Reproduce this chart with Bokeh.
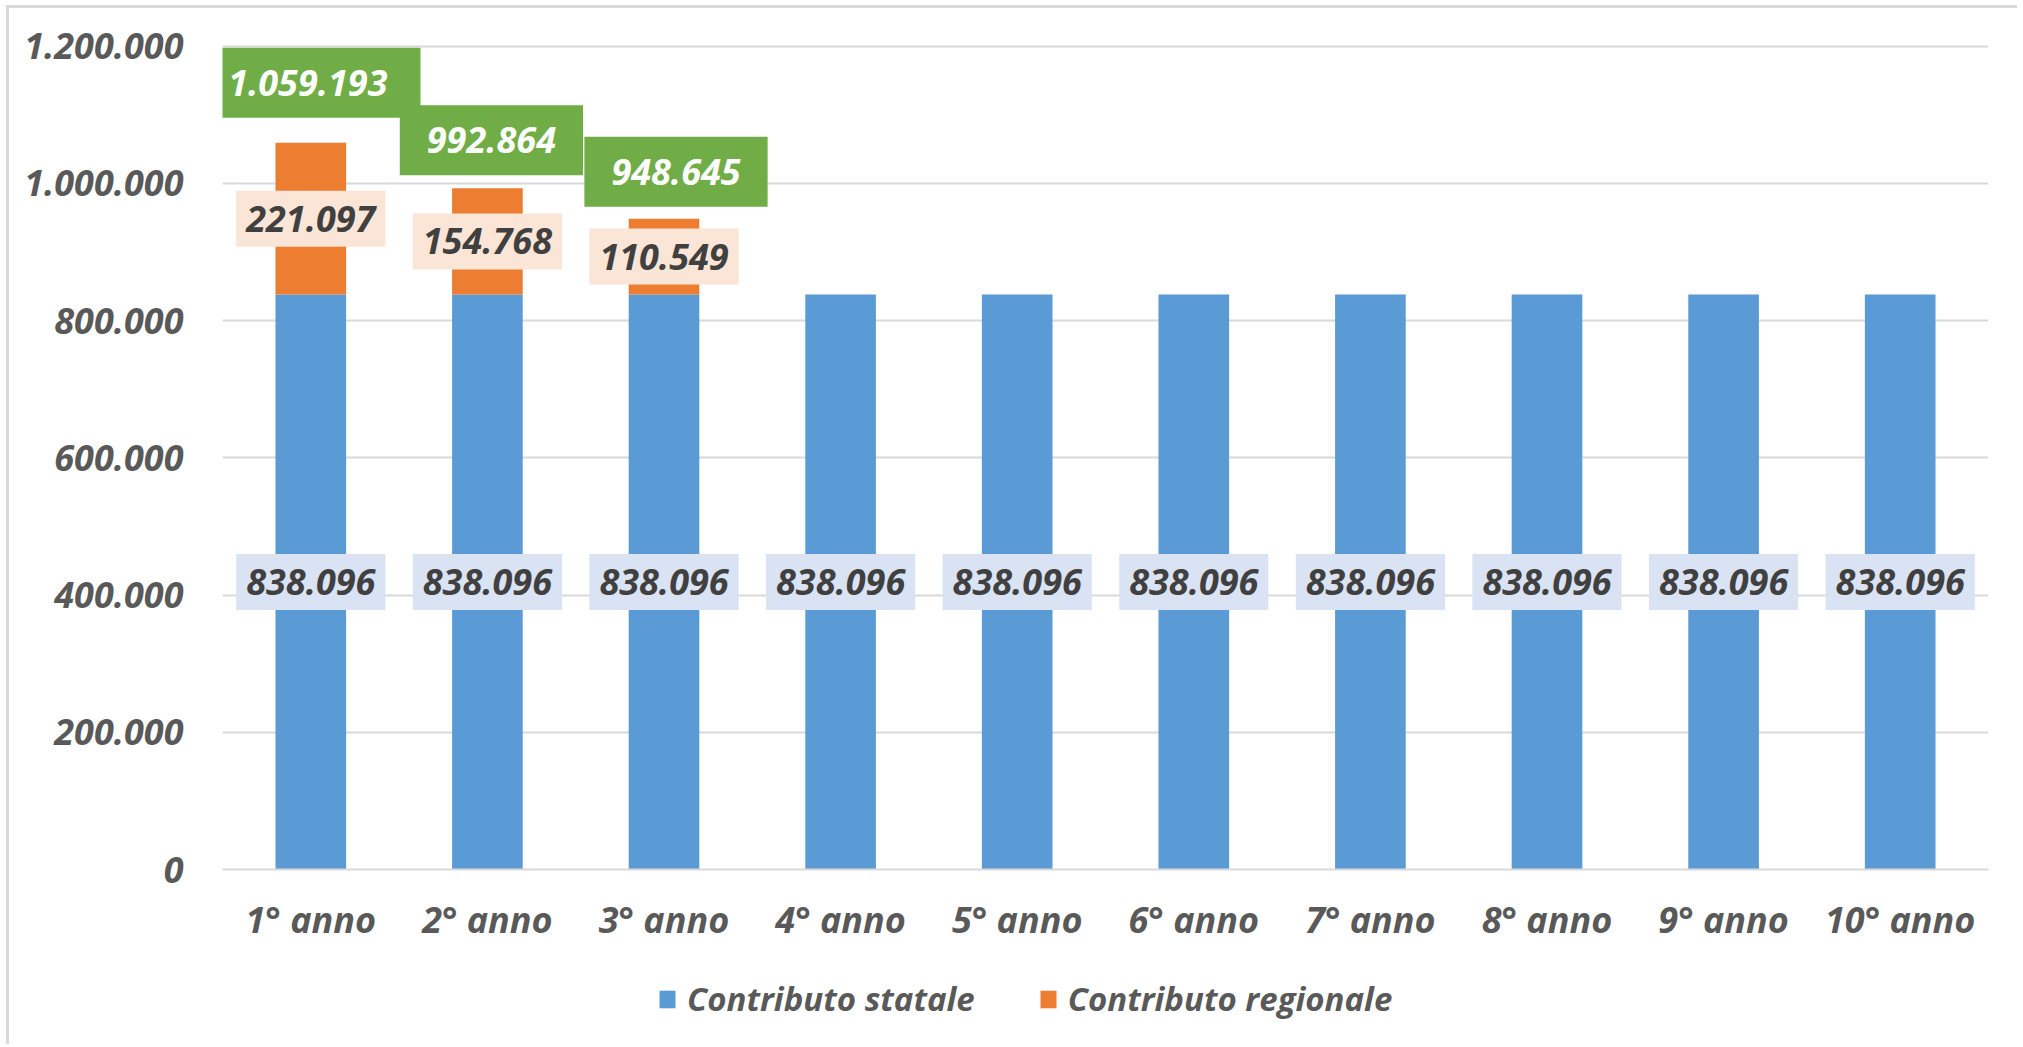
from bokeh.plotting import figure
from bokeh.layouts import column
from bokeh.models import ColumnDataSource, Range1d, FixedTicker, Legend, LegendItem
from bokeh.core.properties import value
from bokeh.embed import file_html
from bokeh.resources import INLINE

# ---- data ----
categories = ["1° anno", "2° anno", "3° anno", "4° anno", "5° anno",
              "6° anno", "7° anno", "8° anno", "9° anno", "10° anno"]
contributo_statale = [838096, 838096, 838096, 838096, 838096,
                      838096, 838096, 838096, 838096, 838096]
contributo_regionale = [221097, 154768, 110549, 0, 0, 0, 0, 0, 0, 0]
series_names = ["Contributo statale", "Contributo regionale"]
y_ticks = [0, 200000, 400000, 600000, 800000, 1000000, 1200000]
y_tick_labels = ["0", "200.000", "400.000", "600.000", "800.000", "1.000.000", "1.200.000"]

# ---- styles ----
BLUE = "#5B9BD5"
ORANGE = "#ED7D31"
GREEN = "#70AD47"
GRID = "#D9D9D9"
TXT = "#595959"
LBL = "#404040"
FONT = "Open Sans"
FS = "36px"
total_dx = [-3, 4, 12]     # screen px
total_dy = [60, 48, 47]    # screen px
total_padx = [33, 27, 27]  # screen px


def fmt(v):
    return f"{v:,}".replace(",", ".")


p = figure(x_range=categories, y_range=Range1d(0, 1204000),
           width=2008, height=940, output_backend="svg", toolbar_location=None,
           min_border_left=213, min_border_right=29, min_border_top=35, min_border_bottom=79)

src = ColumnDataSource(dict(cat=categories, statale=contributo_statale, regionale=contributo_regionale))
r = p.vbar_stack(["statale", "regionale"], x="cat", width=0.4, source=src,
                 color=[BLUE, ORANGE], line_color=None)

# axes
p.yaxis.ticker = FixedTicker(ticks=y_ticks)
p.yaxis.major_label_overrides = {t: l for t, l in zip(y_ticks, y_tick_labels)}
for ax in (p.xaxis[0], p.yaxis[0]):
    ax.major_label_text_font = FONT
    ax.major_label_text_font_size = FS
    ax.major_label_text_font_style = "bold italic"
    ax.major_label_text_color = TXT
    ax.major_tick_line_color = None
    ax.minor_tick_line_color = None
p.yaxis.axis_line_color = None
p.yaxis.major_label_standoff = 33
p.xaxis.axis_line_color = GRID
p.xaxis.axis_line_width = 2
p.xaxis.major_label_standoff = 19
p.xgrid.grid_line_color = None
p.ygrid.grid_line_color = GRID
p.ygrid.grid_line_width = 2
p.outline_line_color = None

text_kw = dict(text_align="center", text_baseline="middle", text_font=value(FONT),
               text_font_size=FS, text_font_style="bold italic")
pad_small = {"left": 10, "right": 10, "top": 15, "bottom": 15}

# labels: statale (middle of blue)
s_src = ColumnDataSource(dict(x=categories, y=[v / 2 for v in contributo_statale],
                              t=[fmt(v) for v in contributo_statale]))
p.text(x="x", y="y", text="t", source=s_src, text_color=LBL,
       background_fill_color="#DAE3F3", padding=pad_small, **text_kw)

idx = [i for i, v in enumerate(contributo_regionale) if v > 0]
r_src = ColumnDataSource(dict(x=[categories[i] for i in idx],
                              y=[contributo_statale[i] + contributo_regionale[i] / 2 for i in idx],
                              t=[fmt(contributo_regionale[i]) for i in idx]))
p.text(x="x", y="y", text="t", source=r_src, text_color=LBL,
       background_fill_color="#FBE5D6", padding=pad_small, **text_kw)

# totals (green boxes)
for k, i in enumerate(idx):
    tot = contributo_statale[i] + contributo_regionale[i]
    t_src = ColumnDataSource(dict(x=[categories[i]], y=[tot], t=[fmt(tot)]))
    px = total_padx[k]
    p.text(x="x", y="y", text="t", source=t_src, x_offset=total_dx[k], y_offset=-total_dy[k],
           text_color="white", background_fill_color=GREEN,
           padding={"left": px, "right": px, "top": 22, "bottom": 22}, **text_kw)

# ---- legend strip (hidden copies of the bars; only the legend is shown) ----
q = figure(x_range=p.x_range, y_range=p.y_range, width=2008, height=96,
           output_backend="svg", toolbar_location=None,
           min_border_left=213, min_border_right=29, min_border_top=0, min_border_bottom=0)
q.axis.visible = False
q.grid.visible = False
q.outline_line_color = None
lr = q.vbar_stack(["statale", "regionale"], x="cat", width=0.4, source=src,
                  color=[BLUE, ORANGE], line_color=None)
for g in lr:
    g.visible = False
legend = Legend(items=[LegendItem(label=series_names[0], renderers=[lr[0]]),
                       LegendItem(label=series_names[1], renderers=[lr[1]])],
                orientation="horizontal", location=(435, 23),
                label_text_font=FONT, label_text_font_size="33px",
                label_text_font_style="bold italic", label_text_color=TXT,
                glyph_width=20, glyph_height=22, label_standoff=10, spacing=63,
                padding=0, margin=0, background_fill_alpha=0, border_line_color=None,
                inactive_fill_alpha=0)
q.add_layout(legend, "center")

layout = column(p, q, spacing=0)
layout.styles = {"margin-left": "6px", "margin-top": "5px",
                 "border-top": "3px solid #D9D9D9", "border-left": "3px solid #D9D9D9"}

open("out.html", "w").write(file_html(layout, INLINE))
